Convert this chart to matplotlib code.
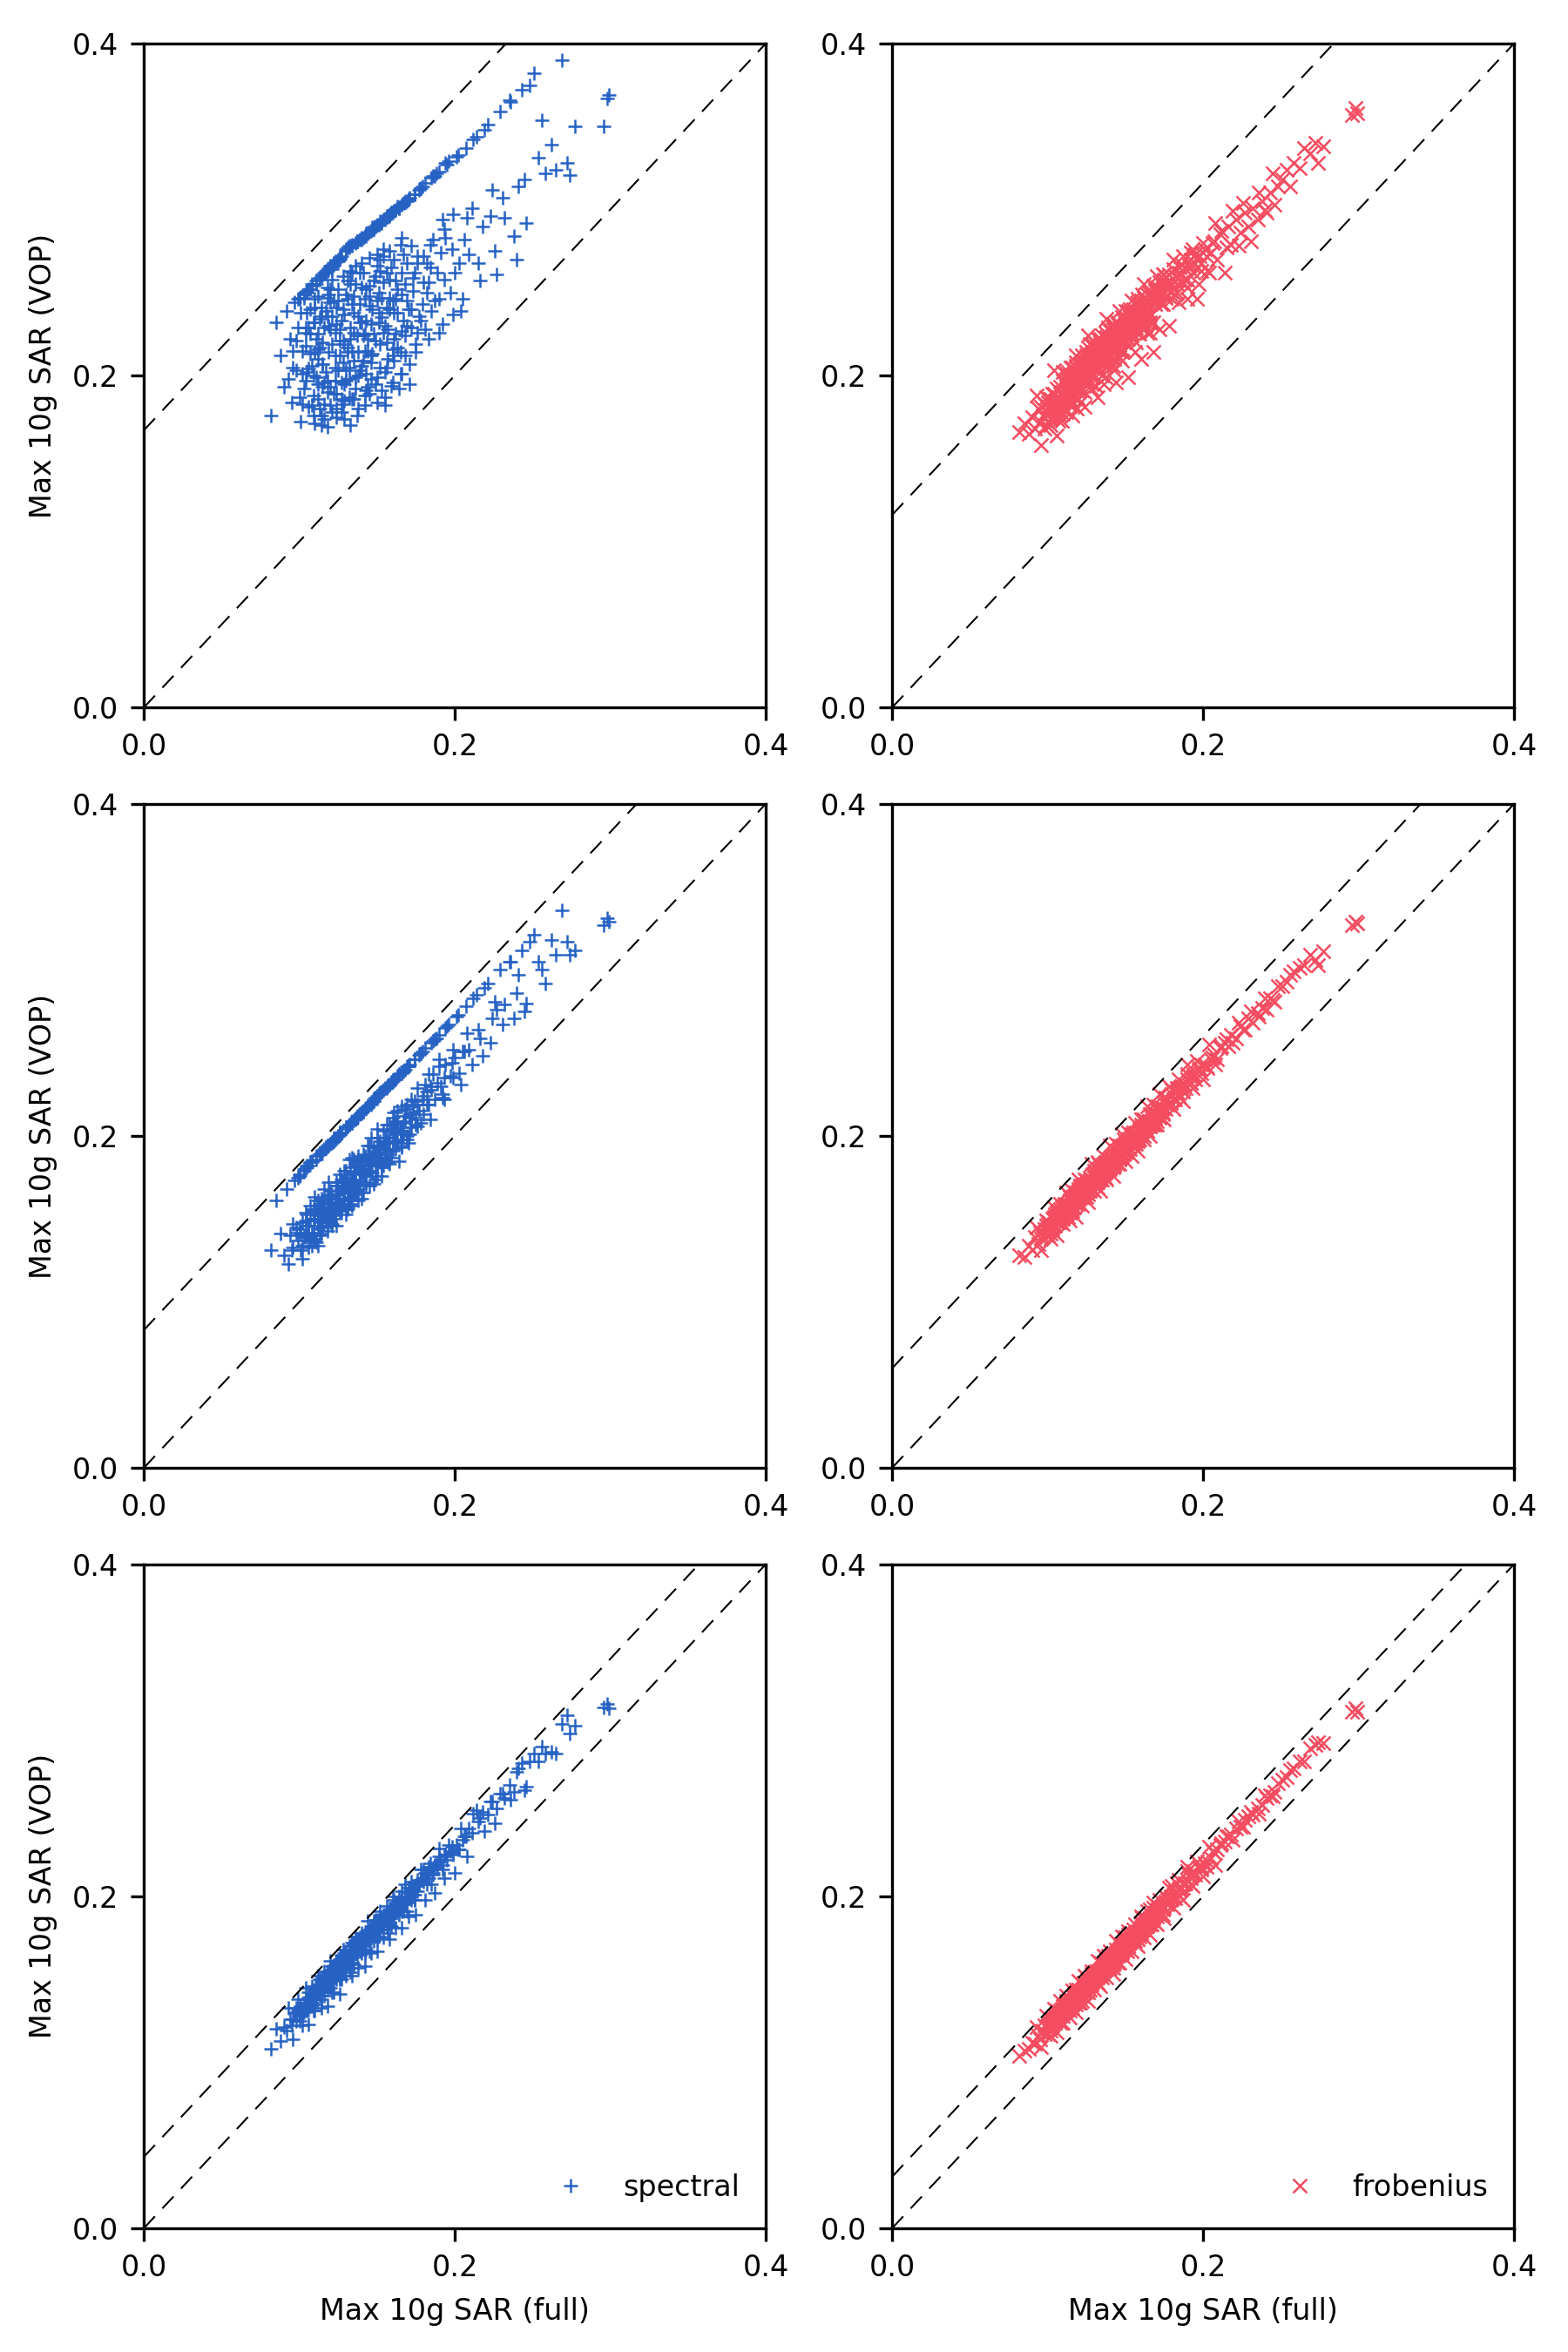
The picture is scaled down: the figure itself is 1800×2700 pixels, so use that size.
import matplotlib
matplotlib.use("Agg")
import matplotlib.pyplot as plt

plt.rcParams["font.size"] = 8
plt.rcParams["lines.scale_dashes"] = False

# max 10g SAR of the full model (shared by all panels)
sar_full = [
    0.082, 0.085, 0.088, 0.090, 0.092, 0.094, 0.095, 0.097, 0.098, 0.099,
    0.100, 0.101, 0.102, 0.103, 0.104, 0.105, 0.105, 0.106, 0.107, 0.108,
    0.108, 0.109, 0.110, 0.110, 0.111, 0.112, 0.112, 0.113, 0.114, 0.114,
    0.115, 0.115, 0.116, 0.117, 0.117, 0.118, 0.118, 0.119, 0.120, 0.120,
    0.121, 0.121, 0.122, 0.123, 0.123, 0.124, 0.124, 0.125, 0.126, 0.126,
    0.127, 0.127, 0.128, 0.129, 0.129, 0.130, 0.130, 0.131, 0.132, 0.132,
    0.133, 0.133, 0.134, 0.135, 0.135, 0.136, 0.137, 0.137, 0.138, 0.139,
    0.139, 0.140, 0.141, 0.141, 0.142, 0.143, 0.143, 0.144, 0.145, 0.146,
    0.146, 0.147, 0.148, 0.149, 0.150, 0.150, 0.151, 0.152, 0.153, 0.154,
    0.155, 0.155, 0.156, 0.157, 0.158, 0.159, 0.160, 0.161, 0.162, 0.163,
    0.164, 0.165, 0.166, 0.167, 0.168, 0.169, 0.170, 0.171, 0.172, 0.174,
    0.175, 0.176, 0.177, 0.178, 0.180, 0.181, 0.183, 0.184, 0.186, 0.187,
    0.189, 0.190, 0.192, 0.194, 0.195, 0.197, 0.199, 0.201, 0.203, 0.205,
    0.207, 0.209, 0.211, 0.214, 0.216, 0.218, 0.221, 0.224, 0.227, 0.229,
    0.232, 0.235, 0.238, 0.241, 0.243, 0.246, 0.251, 0.254, 0.256, 0.258,
    0.262, 0.269, 0.272, 0.274, 0.277, 0.296, 0.298, 0.299,
    0.096, 0.100, 0.103, 0.106, 0.109, 0.111, 0.113, 0.116, 0.119, 0.122,
    0.124, 0.125, 0.128, 0.131, 0.134, 0.136, 0.138, 0.140, 0.142, 0.144,
    0.147, 0.149, 0.151, 0.153, 0.156, 0.158, 0.161, 0.163, 0.166, 0.169,
    0.104, 0.107, 0.112, 0.115, 0.118, 0.120, 0.123, 0.126, 0.129, 0.132,
    0.135, 0.137, 0.140, 0.143, 0.145, 0.148, 0.152, 0.154, 0.157, 0.160,
    0.171, 0.173, 0.176, 0.179, 0.182, 0.185, 0.188, 0.193, 0.198, 0.212,
    0.093, 0.096, 0.099, 0.102, 0.104, 0.106, 0.108, 0.110, 0.112, 0.114,
    0.116, 0.118, 0.120, 0.122, 0.124, 0.126, 0.128, 0.130, 0.132, 0.134,
    0.136, 0.138, 0.140, 0.142, 0.144, 0.146, 0.148, 0.150, 0.152, 0.154,
    0.156, 0.158, 0.160, 0.162, 0.164, 0.166, 0.168, 0.170, 0.172, 0.175,
    0.178, 0.181, 0.184, 0.187, 0.190, 0.193, 0.196, 0.200, 0.204, 0.208,
    0.101, 0.105, 0.109, 0.113, 0.117, 0.121, 0.125, 0.129, 0.133, 0.137,
    0.141, 0.145, 0.149, 0.153, 0.157, 0.161, 0.165, 0.169, 0.173, 0.177,
    0.111, 0.114, 0.117, 0.120, 0.123, 0.127, 0.131, 0.135, 0.139, 0.143,
    0.147, 0.151, 0.155, 0.159, 0.163, 0.167, 0.171, 0.182, 0.191, 0.202,
    0.215, 0.219, 0.223, 0.226, 0.231, 0.236, 0.240, 0.245, 0.248, 0.265,
    0.103, 0.107, 0.110, 0.113, 0.116, 0.119, 0.122, 0.125, 0.128, 0.131,
    0.134, 0.137, 0.140, 0.143, 0.146, 0.149, 0.152, 0.155, 0.158, 0.161,
    0.112, 0.118, 0.124, 0.130, 0.136, 0.142, 0.148, 0.154, 0.160, 0.166,
    0.098, 0.102, 0.106, 0.110, 0.114, 0.118, 0.122, 0.126, 0.130, 0.134,
    0.138, 0.142, 0.146, 0.150, 0.154, 0.158, 0.162, 0.166, 0.170, 0.174,
    0.100, 0.104, 0.108, 0.112, 0.116, 0.120, 0.124, 0.128, 0.132, 0.136,
    0.140, 0.144, 0.148, 0.152, 0.156, 0.160, 0.164, 0.168, 0.172, 0.176,
    0.105, 0.109, 0.113, 0.117, 0.121, 0.125, 0.129, 0.133, 0.137, 0.141,
    0.145, 0.149, 0.153, 0.157, 0.161, 0.165, 0.169, 0.180, 0.185, 0.190,
    0.107, 0.111, 0.115, 0.119, 0.123, 0.127, 0.131, 0.135, 0.139, 0.143,
    0.151, 0.155, 0.159, 0.163, 0.167, 0.179, 0.186, 0.194, 0.199, 0.206,
    0.115, 0.121, 0.127, 0.133, 0.139, 0.145, 0.150, 0.156, 0.162, 0.168,
    0.118, 0.126, 0.134, 0.142, 0.150, 0.158, 0.166, 0.174, 0.183, 0.192,
]

# VOP estimates, spectral norm clustering, three compression levels
vop_spectral_1 = [
    0.176, 0.232, 0.212, 0.193, 0.239, 0.222, 0.184, 0.244, 0.203, 0.229,
    0.246, 0.172, 0.215, 0.249, 0.197, 0.238, 0.251, 0.181, 0.225, 0.206,
    0.254, 0.188, 0.171, 0.232, 0.257, 0.210, 0.195, 0.259, 0.176, 0.241,
    0.220, 0.261, 0.183, 0.202, 0.262, 0.169, 0.247, 0.214, 0.266, 0.193,
    0.236, 0.178, 0.268, 0.205, 0.226, 0.269, 0.189, 0.252, 0.271, 0.212,
    0.196, 0.272, 0.240, 0.174, 0.219, 0.275, 0.203, 0.257, 0.277, 0.187,
    0.229, 0.170, 0.279, 0.209, 0.248, 0.192, 0.281, 0.224, 0.180, 0.282,
    0.243, 0.206, 0.262, 0.283, 0.188, 0.233, 0.285, 0.215, 0.254, 0.287,
    0.198, 0.240, 0.289, 0.221, 0.184, 0.266, 0.291, 0.205, 0.247, 0.294,
    0.182, 0.230, 0.296, 0.210, 0.258, 0.298, 0.196, 0.238, 0.300, 0.217,
    0.301, 0.201, 0.249, 0.304, 0.224, 0.268, 0.306, 0.207, 0.240, 0.309,
    0.214, 0.272, 0.312, 0.233, 0.256, 0.316, 0.222, 0.279, 0.320, 0.245,
    0.262, 0.323, 0.231, 0.283, 0.327, 0.250, 0.297, 0.332, 0.268, 0.246,
    0.337, 0.273, 0.301, 0.344, 0.257, 0.290, 0.351, 0.312, 0.261, 0.359,
    0.295, 0.366, 0.284, 0.314, 0.372, 0.292, 0.382, 0.331, 0.354, 0.322,
    0.339, 0.390, 0.328, 0.321, 0.350, 0.350, 0.367, 0.369,
    0.205, 0.187, 0.247, 0.229, 0.200, 0.255, 0.234, 0.196, 0.264, 0.245,
    0.231, 0.270, 0.183, 0.214, 0.278, 0.255, 0.200, 0.283, 0.225, 0.193,
    0.213, 0.290, 0.232, 0.191, 0.262, 0.297, 0.222, 0.252, 0.303, 0.230,
    0.218, 0.252, 0.225, 0.207, 0.263, 0.182, 0.197, 0.270, 0.237, 0.205,
    0.238, 0.176, 0.282, 0.201, 0.271, 0.288, 0.219, 0.276, 0.296, 0.245,
    0.307, 0.259, 0.226, 0.314, 0.268, 0.239, 0.322, 0.258, 0.276, 0.342,
    0.198, 0.215, 0.246, 0.183, 0.229, 0.204, 0.255, 0.246, 0.186, 0.260,
    0.229, 0.190, 0.252, 0.268, 0.175, 0.221, 0.260, 0.276, 0.198, 0.243,
    0.280, 0.214, 0.268, 0.182, 0.286, 0.231, 0.257, 0.199, 0.293, 0.272,
    0.205, 0.247, 0.298, 0.225, 0.192, 0.262, 0.305, 0.240, 0.278, 0.219,
    0.313, 0.228, 0.265, 0.320, 0.246, 0.288, 0.329, 0.262, 0.239, 0.295,
    0.238, 0.250, 0.176, 0.217, 0.239, 0.264, 0.203, 0.185, 0.255, 0.281,
    0.209, 0.248, 0.195, 0.292, 0.228, 0.270, 0.214, 0.305, 0.251, 0.236,
    0.199, 0.170, 0.262, 0.244, 0.212, 0.178, 0.277, 0.226, 0.262, 0.191,
    0.289, 0.238, 0.202, 0.265, 0.302, 0.233, 0.195, 0.250, 0.274, 0.333,
    0.268, 0.348, 0.296, 0.275, 0.307, 0.365, 0.270, 0.318, 0.375, 0.324,
    0.192, 0.213, 0.241, 0.258, 0.174, 0.230, 0.189, 0.269, 0.208, 0.246,
    0.186, 0.281, 0.232, 0.252, 0.208, 0.290, 0.263, 0.187, 0.240, 0.299,
    0.216, 0.236, 0.180, 0.197, 0.266, 0.246, 0.225, 0.256, 0.212, 0.283,
    0.221, 0.201, 0.252, 0.214, 0.236, 0.197, 0.267, 0.228, 0.249, 0.215,
    0.236, 0.284, 0.212, 0.245, 0.226, 0.296, 0.257, 0.201, 0.306, 0.262,
    0.247, 0.226, 0.182, 0.248, 0.262, 0.228, 0.241, 0.221, 0.278, 0.199,
    0.253, 0.222, 0.288, 0.270, 0.241, 0.216, 0.301, 0.255, 0.229, 0.268,
    0.202, 0.232, 0.180, 0.263, 0.219, 0.245, 0.195, 0.263, 0.281, 0.224,
    0.189, 0.260, 0.235, 0.296, 0.209, 0.279, 0.245, 0.272, 0.319, 0.226,
    0.240, 0.222, 0.193, 0.249, 0.269, 0.233, 0.217, 0.186, 0.232, 0.284,
    0.250, 0.294, 0.194, 0.238, 0.273, 0.243, 0.282, 0.328, 0.237, 0.282,
    0.207, 0.258, 0.186, 0.222, 0.203, 0.242, 0.273, 0.220, 0.246, 0.212,
    0.253, 0.271, 0.262, 0.215, 0.291, 0.275, 0.227, 0.309, 0.256, 0.294,
]
vop_spectral_2 = [
    0.131, 0.161, 0.141, 0.128, 0.168, 0.140, 0.131, 0.173, 0.145, 0.137,
    0.177, 0.131, 0.148, 0.180, 0.139, 0.153, 0.182, 0.133, 0.149, 0.141,
    0.185, 0.150, 0.137, 0.155, 0.188, 0.144, 0.158, 0.189, 0.141, 0.152,
    0.146, 0.191, 0.160, 0.151, 0.193, 0.143, 0.164, 0.155, 0.195, 0.148,
    0.159, 0.146, 0.197, 0.165, 0.153, 0.199, 0.170, 0.157, 0.201, 0.162,
    0.155, 0.202, 0.172, 0.161, 0.167, 0.205, 0.153, 0.175, 0.207, 0.163,
    0.171, 0.159, 0.209, 0.178, 0.165, 0.172, 0.212, 0.182, 0.161, 0.213,
    0.171, 0.180, 0.166, 0.215, 0.187, 0.176, 0.217, 0.182, 0.170, 0.219,
    0.178, 0.188, 0.222, 0.174, 0.193, 0.183, 0.225, 0.190, 0.181, 0.228,
    0.196, 0.186, 0.229, 0.184, 0.199, 0.232, 0.191, 0.204, 0.234, 0.197,
    0.237, 0.205, 0.193, 0.239, 0.209, 0.200, 0.242, 0.213, 0.205, 0.246,
    0.210, 0.219, 0.249, 0.208, 0.224, 0.253, 0.219, 0.230, 0.257, 0.222,
    0.232, 0.261, 0.225, 0.243, 0.266, 0.236, 0.252, 0.272, 0.238, 0.251,
    0.278, 0.252, 0.243, 0.285, 0.259, 0.248, 0.292, 0.271, 0.276, 0.300,
    0.279, 0.305, 0.271, 0.297, 0.312, 0.280, 0.321, 0.305, 0.300, 0.292,
    0.318, 0.336, 0.317, 0.309, 0.312, 0.327, 0.331, 0.329,
    0.133, 0.144, 0.179, 0.142, 0.155, 0.186, 0.148, 0.157, 0.194, 0.152,
    0.160, 0.200, 0.166, 0.157, 0.208, 0.177, 0.168, 0.214, 0.176, 0.186,
    0.178, 0.223, 0.192, 0.187, 0.192, 0.231, 0.196, 0.208, 0.238, 0.198,
    0.146, 0.184, 0.150, 0.156, 0.194, 0.157, 0.160, 0.202, 0.170, 0.167,
    0.171, 0.167, 0.214, 0.186, 0.179, 0.221, 0.184, 0.195, 0.230, 0.197,
    0.243, 0.214, 0.206, 0.251, 0.219, 0.228, 0.259, 0.235, 0.244, 0.283,
    0.123, 0.147, 0.175, 0.126, 0.154, 0.146, 0.184, 0.163, 0.134, 0.190,
    0.168, 0.146, 0.167, 0.197, 0.146, 0.177, 0.162, 0.204, 0.186, 0.158,
    0.210, 0.188, 0.162, 0.188, 0.218, 0.199, 0.171, 0.199, 0.226, 0.182,
    0.207, 0.183, 0.233, 0.209, 0.185, 0.218, 0.240, 0.196, 0.222, 0.207,
    0.250, 0.231, 0.210, 0.258, 0.242, 0.222, 0.267, 0.247, 0.231, 0.262,
    0.141, 0.181, 0.142, 0.157, 0.154, 0.196, 0.170, 0.159, 0.174, 0.211,
    0.178, 0.189, 0.183, 0.227, 0.197, 0.207, 0.201, 0.242, 0.218, 0.215,
    0.156, 0.145, 0.193, 0.162, 0.150, 0.174, 0.206, 0.174, 0.185, 0.172,
    0.220, 0.194, 0.185, 0.204, 0.236, 0.208, 0.201, 0.227, 0.230, 0.273,
    0.264, 0.289, 0.256, 0.281, 0.267, 0.305, 0.286, 0.275, 0.317, 0.309,
    0.139, 0.137, 0.150, 0.189, 0.151, 0.162, 0.155, 0.200, 0.168, 0.167,
    0.166, 0.211, 0.178, 0.170, 0.187, 0.223, 0.189, 0.199, 0.191, 0.234,
    0.152, 0.154, 0.167, 0.169, 0.182, 0.183, 0.193, 0.192, 0.204, 0.203,
    0.142, 0.134, 0.182, 0.138, 0.162, 0.156, 0.198, 0.155, 0.179, 0.173,
    0.185, 0.216, 0.182, 0.176, 0.203, 0.231, 0.202, 0.194, 0.242, 0.221,
    0.176, 0.149, 0.134, 0.161, 0.192, 0.152, 0.172, 0.170, 0.207, 0.167,
    0.182, 0.194, 0.221, 0.197, 0.189, 0.211, 0.237, 0.216, 0.211, 0.229,
    0.140, 0.156, 0.140, 0.193, 0.165, 0.160, 0.179, 0.161, 0.211, 0.189,
    0.194, 0.190, 0.176, 0.230, 0.214, 0.203, 0.219, 0.213, 0.256, 0.246,
    0.158, 0.136, 0.154, 0.172, 0.198, 0.172, 0.156, 0.186, 0.179, 0.217,
    0.187, 0.229, 0.187, 0.215, 0.202, 0.222, 0.237, 0.265, 0.235, 0.251,
    0.161, 0.147, 0.168, 0.181, 0.173, 0.185, 0.204, 0.199, 0.192, 0.212,
    0.148, 0.202, 0.187, 0.177, 0.224, 0.207, 0.198, 0.246, 0.237, 0.223,
]
vop_spectral_3 = [
    0.108, 0.120, 0.113, 0.121, 0.119, 0.126, 0.122, 0.130, 0.125, 0.131,
    0.128, 0.134, 0.129, 0.136, 0.132, 0.138, 0.131, 0.139, 0.135, 0.141,
    0.136, 0.142, 0.138, 0.144, 0.140, 0.145, 0.141, 0.147, 0.143, 0.149,
    0.146, 0.151, 0.147, 0.152, 0.148, 0.154, 0.149, 0.151, 0.156, 0.150,
    0.153, 0.158, 0.155, 0.159, 0.154, 0.161, 0.156, 0.158, 0.162, 0.157,
    0.160, 0.164, 0.158, 0.163, 0.166, 0.161, 0.167, 0.163, 0.168, 0.162,
    0.165, 0.170, 0.167, 0.171, 0.166, 0.169, 0.173, 0.168, 0.171, 0.175,
    0.171, 0.174, 0.176, 0.171, 0.177, 0.173, 0.178, 0.175, 0.180, 0.176,
    0.181, 0.177, 0.182, 0.179, 0.184, 0.180, 0.185, 0.182, 0.187, 0.183,
    0.188, 0.185, 0.189, 0.186, 0.191, 0.188, 0.193, 0.190, 0.195, 0.192,
    0.197, 0.193, 0.198, 0.195, 0.200, 0.196, 0.202, 0.199, 0.204, 0.201,
    0.206, 0.203, 0.208, 0.210, 0.209, 0.214, 0.211, 0.216, 0.214, 0.219,
    0.217, 0.221, 0.219, 0.225, 0.222, 0.227, 0.225, 0.231, 0.228, 0.234,
    0.236, 0.241, 0.238, 0.252, 0.247, 0.251, 0.249, 0.257, 0.253, 0.262,
    0.259, 0.267, 0.263, 0.277, 0.280, 0.266, 0.286, 0.281, 0.290, 0.286,
    0.287, 0.304, 0.309, 0.298, 0.303, 0.314, 0.316, 0.313,
    0.126, 0.131, 0.133, 0.135, 0.139, 0.142, 0.144, 0.149, 0.148, 0.152,
    0.157, 0.160, 0.163, 0.164, 0.168, 0.172, 0.169, 0.176, 0.174, 0.178,
    0.180, 0.183, 0.182, 0.186, 0.186, 0.190, 0.192, 0.195, 0.195, 0.199,
    0.135, 0.139, 0.143, 0.148, 0.151, 0.153, 0.157, 0.160, 0.161, 0.165,
    0.168, 0.170, 0.172, 0.177, 0.178, 0.181, 0.186, 0.185, 0.190, 0.191,
    0.200, 0.204, 0.207, 0.211, 0.213, 0.216, 0.220, 0.224, 0.230, 0.250,
    0.133, 0.114, 0.138, 0.122, 0.145, 0.123, 0.146, 0.131, 0.152, 0.133,
    0.155, 0.134, 0.161, 0.142, 0.161, 0.141, 0.168, 0.152, 0.170, 0.152,
    0.176, 0.157, 0.178, 0.158, 0.185, 0.166, 0.185, 0.167, 0.191, 0.175,
    0.194, 0.174, 0.200, 0.181, 0.200, 0.181, 0.207, 0.188, 0.209, 0.189,
    0.216, 0.198, 0.220, 0.202, 0.229, 0.211, 0.231, 0.214, 0.241, 0.224,
    0.131, 0.133, 0.140, 0.140, 0.147, 0.149, 0.156, 0.156, 0.163, 0.165,
    0.170, 0.176, 0.176, 0.183, 0.185, 0.192, 0.192, 0.199, 0.201, 0.207,
    0.145, 0.138, 0.150, 0.145, 0.157, 0.150, 0.164, 0.159, 0.173, 0.168,
    0.180, 0.176, 0.189, 0.182, 0.196, 0.191, 0.205, 0.207, 0.222, 0.228,
    0.245, 0.239, 0.257, 0.244, 0.262, 0.258, 0.275, 0.264, 0.281, 0.286,
    0.130, 0.139, 0.139, 0.145, 0.144, 0.151, 0.151, 0.158, 0.156, 0.163,
    0.163, 0.169, 0.168, 0.175, 0.175, 0.182, 0.180, 0.187, 0.187, 0.193,
    0.142, 0.147, 0.155, 0.159, 0.167, 0.171, 0.179, 0.183, 0.191, 0.195,
    0.133, 0.128, 0.142, 0.135, 0.149, 0.144, 0.158, 0.150, 0.165, 0.160,
    0.173, 0.167, 0.182, 0.174, 0.189, 0.184, 0.196, 0.191, 0.205, 0.198,
    0.125, 0.138, 0.134, 0.147, 0.140, 0.154, 0.150, 0.163, 0.157, 0.170,
    0.166, 0.178, 0.173, 0.187, 0.182, 0.194, 0.189, 0.203, 0.198, 0.210,
    0.136, 0.131, 0.150, 0.146, 0.142, 0.161, 0.159, 0.154, 0.174, 0.172,
    0.167, 0.186, 0.183, 0.178, 0.198, 0.196, 0.191, 0.216, 0.207, 0.224,
    0.135, 0.143, 0.144, 0.152, 0.151, 0.159, 0.160, 0.168, 0.167, 0.175,
    0.180, 0.187, 0.187, 0.195, 0.196, 0.210, 0.213, 0.225, 0.226, 0.236,
    0.146, 0.150, 0.158, 0.162, 0.170, 0.174, 0.181, 0.185, 0.193, 0.197,
    0.155, 0.151, 0.172, 0.166, 0.186, 0.183, 0.203, 0.198, 0.218, 0.216,
]

# VOP estimates, frobenius norm clustering
vop_frobenius_1 = [
    0.166, 0.171, 0.165, 0.175, 0.168, 0.180, 0.172, 0.176, 0.183, 0.170,
    0.178, 0.186, 0.174, 0.182, 0.189, 0.177, 0.184, 0.192, 0.180, 0.186,
    0.193, 0.183, 0.197, 0.188, 0.180, 0.194, 0.201, 0.189, 0.196, 0.186,
    0.199, 0.191, 0.205, 0.195, 0.187, 0.200, 0.208, 0.196, 0.203, 0.192,
    0.207, 0.197, 0.212, 0.201, 0.209, 0.196, 0.205, 0.214, 0.203, 0.210,
    0.200, 0.216, 0.207, 0.212, 0.219, 0.205, 0.214, 0.209, 0.217, 0.222,
    0.211, 0.203, 0.219, 0.214, 0.224, 0.208, 0.216, 0.226, 0.212, 0.220,
    0.213, 0.227, 0.218, 0.222, 0.230, 0.215, 0.225, 0.220, 0.232, 0.224,
    0.230, 0.221, 0.235, 0.227, 0.233, 0.224, 0.238, 0.229, 0.236, 0.231,
    0.240, 0.228, 0.234, 0.243, 0.237, 0.231, 0.245, 0.239, 0.247, 0.236,
    0.242, 0.250, 0.238, 0.247, 0.254, 0.243, 0.251, 0.246, 0.256, 0.249,
    0.258, 0.247, 0.253, 0.261, 0.255, 0.264, 0.250, 0.259, 0.267, 0.256,
    0.264, 0.258, 0.270, 0.262, 0.273, 0.255, 0.268, 0.276, 0.263, 0.274,
    0.281, 0.270, 0.285, 0.262, 0.290, 0.279, 0.294, 0.286, 0.298, 0.290,
    0.301, 0.294, 0.305, 0.298, 0.310, 0.303, 0.318, 0.324, 0.314, 0.328,
    0.325, 0.334, 0.340, 0.328, 0.338, 0.357, 0.361, 0.358,
    0.181, 0.184, 0.189, 0.181, 0.190, 0.196, 0.184, 0.198, 0.204, 0.199,
    0.208, 0.200, 0.213, 0.206, 0.221, 0.213, 0.223, 0.217, 0.228, 0.219,
    0.226, 0.233, 0.229, 0.240, 0.236, 0.244, 0.236, 0.245, 0.243, 0.251,
    0.183, 0.187, 0.191, 0.194, 0.193, 0.198, 0.204, 0.207, 0.205, 0.209,
    0.209, 0.214, 0.220, 0.222, 0.218, 0.227, 0.233, 0.238, 0.231, 0.238,
    0.253, 0.244, 0.255, 0.251, 0.260, 0.262, 0.258, 0.266, 0.272, 0.287,
    0.188, 0.158, 0.187, 0.170, 0.203, 0.164, 0.189, 0.202, 0.178, 0.200,
    0.176, 0.212, 0.190, 0.207, 0.181, 0.224, 0.192, 0.220, 0.187, 0.217,
    0.195, 0.234, 0.207, 0.229, 0.196, 0.239, 0.209, 0.234, 0.199, 0.245,
    0.214, 0.246, 0.210, 0.255, 0.226, 0.250, 0.214, 0.260, 0.228, 0.261,
    0.230, 0.270, 0.244, 0.272, 0.246, 0.276, 0.246, 0.280, 0.262, 0.292,
    0.177, 0.185, 0.182, 0.192, 0.191, 0.202, 0.200, 0.207, 0.205, 0.214,
    0.216, 0.224, 0.222, 0.231, 0.229, 0.238, 0.236, 0.245, 0.243, 0.252,
    0.196, 0.182, 0.200, 0.186, 0.209, 0.196, 0.213, 0.200, 0.224, 0.210,
    0.230, 0.219, 0.236, 0.225, 0.243, 0.231, 0.250, 0.249, 0.266, 0.272,
    0.277, 0.299, 0.278, 0.304, 0.281, 0.310, 0.300, 0.322, 0.314, 0.337,
    0.175, 0.177, 0.188, 0.184, 0.195, 0.191, 0.199, 0.195, 0.207, 0.204,
    0.202, 0.217, 0.211, 0.221, 0.215, 0.230, 0.222, 0.234, 0.226, 0.241,
    0.192, 0.193, 0.203, 0.204, 0.214, 0.215, 0.225, 0.226, 0.236, 0.237,
    0.168, 0.186, 0.181, 0.177, 0.195, 0.206, 0.191, 0.208, 0.206, 0.222,
    0.212, 0.231, 0.211, 0.230, 0.224, 0.244, 0.236, 0.226, 0.253, 0.243,
    0.181, 0.179, 0.176, 0.198, 0.189, 0.200, 0.190, 0.213, 0.210, 0.207,
    0.223, 0.216, 0.214, 0.239, 0.233, 0.229, 0.249, 0.232, 0.250, 0.248,
    0.182, 0.173, 0.202, 0.196, 0.184, 0.212, 0.200, 0.214, 0.199, 0.220,
    0.231, 0.215, 0.235, 0.220, 0.249, 0.235, 0.252, 0.246, 0.265, 0.253,
    0.173, 0.188, 0.205, 0.180, 0.201, 0.219, 0.194, 0.211, 0.229, 0.203,
    0.222, 0.239, 0.235, 0.230, 0.248, 0.254, 0.256, 0.272, 0.263, 0.280,
    0.191, 0.194, 0.207, 0.208, 0.210, 0.221, 0.223, 0.236, 0.233, 0.245,
    0.200, 0.196, 0.220, 0.206, 0.239, 0.231, 0.232, 0.261, 0.255, 0.274,
]
vop_frobenius_2 = [
    0.128, 0.127, 0.134, 0.131, 0.139, 0.135, 0.142, 0.139, 0.141, 0.146,
    0.143, 0.148, 0.144, 0.150, 0.147, 0.153, 0.146, 0.151, 0.155, 0.149,
    0.156, 0.150, 0.157, 0.153, 0.159, 0.152, 0.158, 0.155, 0.161, 0.157,
    0.158, 0.163, 0.160, 0.164, 0.157, 0.166, 0.161, 0.163, 0.168, 0.160,
    0.165, 0.169, 0.163, 0.167, 0.171, 0.166, 0.170, 0.173, 0.168, 0.172,
    0.170, 0.175, 0.168, 0.173, 0.177, 0.171, 0.175, 0.178, 0.174, 0.169,
    0.176, 0.180, 0.174, 0.178, 0.182, 0.177, 0.181, 0.184, 0.179, 0.183,
    0.180, 0.186, 0.182, 0.187, 0.184, 0.189, 0.182, 0.187, 0.191, 0.186,
    0.190, 0.187, 0.193, 0.189, 0.195, 0.190, 0.193, 0.197, 0.192, 0.196,
    0.199, 0.194, 0.197, 0.202, 0.198, 0.204, 0.201, 0.205, 0.200, 0.207,
    0.203, 0.209, 0.206, 0.211, 0.207, 0.213, 0.209, 0.215, 0.211, 0.217,
    0.220, 0.216, 0.222, 0.219, 0.225, 0.222, 0.227, 0.224, 0.230, 0.227,
    0.229, 0.234, 0.232, 0.237, 0.234, 0.240, 0.238, 0.243, 0.241, 0.246,
    0.249, 0.246, 0.253, 0.256, 0.254, 0.261, 0.259, 0.266, 0.264, 0.271,
    0.268, 0.274, 0.277, 0.276, 0.283, 0.281, 0.290, 0.293, 0.297, 0.299,
    0.301, 0.309, 0.306, 0.303, 0.311, 0.327, 0.329, 0.328,
    0.138, 0.147, 0.146, 0.148, 0.154, 0.156, 0.159, 0.163, 0.161, 0.167,
    0.168, 0.171, 0.172, 0.174, 0.179, 0.180, 0.183, 0.183, 0.188, 0.185,
    0.191, 0.192, 0.196, 0.195, 0.201, 0.200, 0.203, 0.204, 0.209, 0.210,
    0.150, 0.150, 0.155, 0.160, 0.163, 0.165, 0.165, 0.170, 0.171, 0.177,
    0.177, 0.178, 0.181, 0.185, 0.188, 0.190, 0.193, 0.199, 0.199, 0.203,
    0.213, 0.215, 0.221, 0.220, 0.226, 0.229, 0.231, 0.235, 0.241, 0.254,
    0.145, 0.131, 0.149, 0.138, 0.157, 0.140, 0.159, 0.147, 0.166, 0.149,
    0.167, 0.151, 0.174, 0.158, 0.174, 0.160, 0.183, 0.167, 0.184, 0.167,
    0.188, 0.174, 0.194, 0.176, 0.195, 0.183, 0.201, 0.185, 0.202, 0.188,
    0.208, 0.191, 0.210, 0.198, 0.218, 0.200, 0.219, 0.207, 0.225, 0.210,
    0.230, 0.216, 0.234, 0.221, 0.243, 0.229, 0.245, 0.234, 0.255, 0.243,
    0.144, 0.149, 0.151, 0.157, 0.160, 0.163, 0.169, 0.172, 0.175, 0.181,
    0.184, 0.187, 0.193, 0.196, 0.199, 0.205, 0.208, 0.211, 0.217, 0.219,
    0.158, 0.154, 0.163, 0.159, 0.170, 0.167, 0.177, 0.174, 0.186, 0.183,
    0.193, 0.191, 0.202, 0.198, 0.209, 0.207, 0.218, 0.222, 0.236, 0.242,
    0.258, 0.256, 0.268, 0.264, 0.275, 0.272, 0.283, 0.282, 0.290, 0.303,
    0.144, 0.152, 0.151, 0.158, 0.157, 0.164, 0.163, 0.170, 0.169, 0.176,
    0.175, 0.182, 0.181, 0.188, 0.187, 0.194, 0.193, 0.200, 0.199, 0.206,
    0.155, 0.160, 0.168, 0.172, 0.180, 0.184, 0.192, 0.196, 0.204, 0.208,
    0.144, 0.141, 0.154, 0.150, 0.163, 0.159, 0.170, 0.165, 0.179, 0.176,
    0.184, 0.181, 0.194, 0.191, 0.201, 0.197, 0.210, 0.206, 0.216, 0.213,
    0.140, 0.151, 0.148, 0.158, 0.155, 0.167, 0.164, 0.174, 0.172, 0.183,
    0.180, 0.191, 0.188, 0.198, 0.196, 0.207, 0.203, 0.214, 0.212, 0.223,
    0.149, 0.157, 0.151, 0.161, 0.170, 0.163, 0.173, 0.183, 0.175, 0.186,
    0.183, 0.198, 0.198, 0.195, 0.210, 0.209, 0.207, 0.228, 0.223, 0.237,
    0.148, 0.154, 0.160, 0.160, 0.166, 0.172, 0.172, 0.178, 0.184, 0.184,
    0.194, 0.196, 0.203, 0.205, 0.211, 0.220, 0.230, 0.236, 0.243, 0.247,
    0.157, 0.165, 0.169, 0.177, 0.181, 0.189, 0.192, 0.200, 0.204, 0.212,
    0.165, 0.167, 0.181, 0.182, 0.196, 0.199, 0.213, 0.214, 0.229, 0.232,
]
vop_frobenius_3 = [
    0.104, 0.107, 0.108, 0.112, 0.111, 0.116, 0.114, 0.119, 0.117, 0.121,
    0.120, 0.124, 0.121, 0.126, 0.124, 0.128, 0.125, 0.129, 0.127, 0.131,
    0.128, 0.132, 0.130, 0.134, 0.132, 0.135, 0.131, 0.136, 0.134, 0.137,
    0.135, 0.138, 0.137, 0.139, 0.136, 0.141, 0.138, 0.140, 0.143, 0.139,
    0.142, 0.140, 0.144, 0.143, 0.146, 0.145, 0.142, 0.147, 0.146, 0.149,
    0.147, 0.150, 0.148, 0.151, 0.149, 0.152, 0.150, 0.153, 0.151, 0.155,
    0.154, 0.152, 0.156, 0.155, 0.157, 0.156, 0.159, 0.157, 0.160, 0.158,
    0.161, 0.159, 0.162, 0.164, 0.163, 0.165, 0.162, 0.166, 0.164, 0.168,
    0.166, 0.169, 0.167, 0.171, 0.169, 0.172, 0.170, 0.174, 0.172, 0.175,
    0.174, 0.177, 0.176, 0.178, 0.177, 0.180, 0.178, 0.182, 0.180, 0.184,
    0.183, 0.186, 0.185, 0.188, 0.187, 0.190, 0.188, 0.192, 0.190, 0.194,
    0.193, 0.196, 0.195, 0.198, 0.199, 0.201, 0.202, 0.204, 0.205, 0.207,
    0.208, 0.210, 0.211, 0.214, 0.213, 0.217, 0.216, 0.220, 0.221, 0.223,
    0.226, 0.228, 0.231, 0.233, 0.236, 0.237, 0.241, 0.242, 0.246, 0.248,
    0.249, 0.253, 0.255, 0.259, 0.261, 0.263, 0.270, 0.272, 0.276, 0.277,
    0.281, 0.289, 0.291, 0.293, 0.292, 0.311, 0.313, 0.311,
    0.118, 0.122, 0.123, 0.126, 0.129, 0.133, 0.133, 0.136, 0.142, 0.141,
    0.144, 0.146, 0.149, 0.151, 0.155, 0.158, 0.158, 0.162, 0.161, 0.164,
    0.168, 0.169, 0.172, 0.173, 0.178, 0.179, 0.180, 0.182, 0.187, 0.189,
    0.126, 0.129, 0.133, 0.136, 0.140, 0.141, 0.144, 0.148, 0.150, 0.153,
    0.154, 0.157, 0.161, 0.163, 0.166, 0.170, 0.171, 0.174, 0.177, 0.181,
    0.191, 0.193, 0.197, 0.199, 0.203, 0.205, 0.208, 0.213, 0.219, 0.232,
    0.121, 0.109, 0.128, 0.116, 0.132, 0.118, 0.137, 0.124, 0.140, 0.127,
    0.143, 0.130, 0.149, 0.137, 0.152, 0.137, 0.155, 0.144, 0.161, 0.146,
    0.164, 0.151, 0.167, 0.153, 0.173, 0.160, 0.176, 0.162, 0.179, 0.167,
    0.183, 0.170, 0.188, 0.175, 0.191, 0.177, 0.196, 0.183, 0.198, 0.187,
    0.205, 0.193, 0.210, 0.198, 0.218, 0.206, 0.221, 0.212, 0.230, 0.219,
    0.122, 0.124, 0.130, 0.133, 0.139, 0.140, 0.146, 0.149, 0.155, 0.156,
    0.161, 0.167, 0.168, 0.174, 0.177, 0.183, 0.184, 0.190, 0.193, 0.198,
    0.135, 0.131, 0.141, 0.136, 0.148, 0.144, 0.155, 0.151, 0.164, 0.160,
    0.171, 0.167, 0.180, 0.176, 0.187, 0.183, 0.194, 0.199, 0.213, 0.218,
    0.236, 0.234, 0.245, 0.242, 0.251, 0.250, 0.261, 0.260, 0.268, 0.281,
    0.122, 0.129, 0.128, 0.135, 0.135, 0.141, 0.140, 0.147, 0.147, 0.153,
    0.153, 0.159, 0.158, 0.165, 0.165, 0.171, 0.170, 0.177, 0.177, 0.183,
    0.132, 0.139, 0.144, 0.151, 0.156, 0.163, 0.168, 0.175, 0.180, 0.187,
    0.122, 0.119, 0.131, 0.128, 0.138, 0.135, 0.147, 0.142, 0.154, 0.152,
    0.162, 0.159, 0.171, 0.168, 0.178, 0.174, 0.187, 0.183, 0.194, 0.192,
    0.117, 0.128, 0.124, 0.137, 0.133, 0.144, 0.142, 0.153, 0.148, 0.160,
    0.157, 0.168, 0.166, 0.177, 0.173, 0.184, 0.182, 0.193, 0.189, 0.200,
    0.125, 0.124, 0.139, 0.138, 0.136, 0.151, 0.149, 0.147, 0.163, 0.162,
    0.160, 0.175, 0.173, 0.171, 0.187, 0.186, 0.184, 0.206, 0.200, 0.215,
    0.126, 0.133, 0.133, 0.141, 0.142, 0.149, 0.149, 0.157, 0.158, 0.165,
    0.170, 0.177, 0.178, 0.184, 0.186, 0.200, 0.205, 0.215, 0.217, 0.227,
    0.136, 0.141, 0.148, 0.153, 0.160, 0.165, 0.171, 0.176, 0.183, 0.188,
    0.144, 0.142, 0.160, 0.157, 0.175, 0.174, 0.192, 0.189, 0.208, 0.207,
]

# overestimation bound of each compression (upper dashed line)
bound_spectral = [0.167, 0.083, 0.043]
bound_frobenius = [0.116, 0.060, 0.031]

blue = "#2662C4"
red = "#F44D61"

fig, axes = plt.subplots(3, 2, figsize=(6, 9))
plt.subplots_adjust(left=0.0917, right=0.9656, bottom=0.0526, top=0.9815,
                    wspace=0.203, hspace=0.145)

rows = [
    (vop_spectral_1, vop_frobenius_1),
    (vop_spectral_2, vop_frobenius_2),
    (vop_spectral_3, vop_frobenius_3),
]

for i, (y_spec, y_frob) in enumerate(rows):
    for j, (yv, mk, col, lab, eps) in enumerate([
            (y_spec, "+", blue, "spectral", bound_spectral[i]),
            (y_frob, "x", red, "frobenius", bound_frobenius[i])]):
        ax = axes[i, j]
        pts, = ax.plot(sar_full, yv, mk, color=col, ms=4, mew=0.6, ls="none", label=lab)
        ax.plot([0, 0.4], [0, 0.4], color="k", lw=0.5, dashes=(4.5, 3.0))
        ax.plot([0, 0.4], [eps, 0.4 + eps], color="k", lw=0.5, dashes=(4.5, 3.0))
        ax.set_xlim(0, 0.4)
        ax.set_ylim(0, 0.4)
        ax.set_xticks([0.0, 0.2, 0.4])
        ax.set_yticks([0.0, 0.2, 0.4])
        if j == 0:
            ax.set_ylabel("Max 10g SAR (VOP)")
        if i == 2:
            ax.set_xlabel("Max 10g SAR (full)")
            ax.legend(handles=[pts], loc="lower right", frameon=False)

fig.savefig("out.png", dpi=300)
